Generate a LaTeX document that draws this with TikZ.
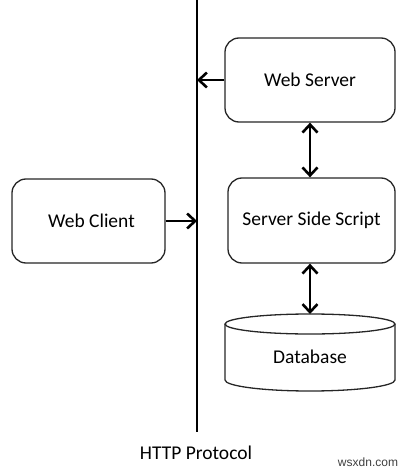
\documentclass[tikz,border=0pt]{standalone}
\usepackage{fontspec}
\setmainfont{Carlito}
\usetikzlibrary{arrows.meta}
\begin{document}
\begin{tikzpicture}[x=1pt,y=-1pt,
  lbl/.style={font=\fontsize{19.5}{23}\selectfont, text=black},
  box/.style={lbl, draw=black!85, line width=1.3pt, rounded corners=14pt, fill=white},
  tipb/.tip={Straight Barb[length=8pt,width=15pt,line width=2.6pt]},
  conn/.style={line width=2.8pt, -tipb},
  dconn/.style={line width=2.8pt, tipb-tipb},
  dbline/.style={draw=black!85, line width=1.3pt}]
\useasboundingbox (0,0) rectangle (411,473);
% protocol line
\coordinate (ltop) at (197,0);
\coordinate (lbot) at (197,432);
\draw[line width=2.2pt] (ltop) -- (lbot);
\node[lbl] (http) at (196,453) {HTTP Protocol};
% boxes
\node[box, minimum width=170pt, minimum height=84pt] (ws) at (310,80) {Web Server};
\node[box, minimum width=167pt, minimum height=85pt] (sss) at (311.5,220.5) {Server Side Script};
\node[box, minimum width=153pt, minimum height=84pt] (wc) at (88.5,221) {\hspace{6pt}Web Client};
% database cylinder
\draw[dbline] (225,324) -- (225,380) arc[start angle=180, end angle=360, x radius=85pt, y radius=11pt] -- (395,324);
\draw[dbline] (310,324) ellipse [x radius=85pt, y radius=10pt];
\coordinate (dbtop) at (310,314);
\node[lbl] (db) at (310,357) {Database};
% connectors
\draw[conn] (ws.west) -- (ws.west -| ltop);
\draw[conn] (wc.east) -- (wc.east -| ltop);
\draw[dconn] (ws.south) -- (ws.south |- sss.north);
\draw[dconn] (sss.south -| dbtop) -- (dbtop);
% watermark
\node[font=\fontspec{Liberation Sans}\fontsize{12}{14}\selectfont, text=black!75] (wm) at (368,462) {wsxdn.com};
\end{tikzpicture}
\end{document}
